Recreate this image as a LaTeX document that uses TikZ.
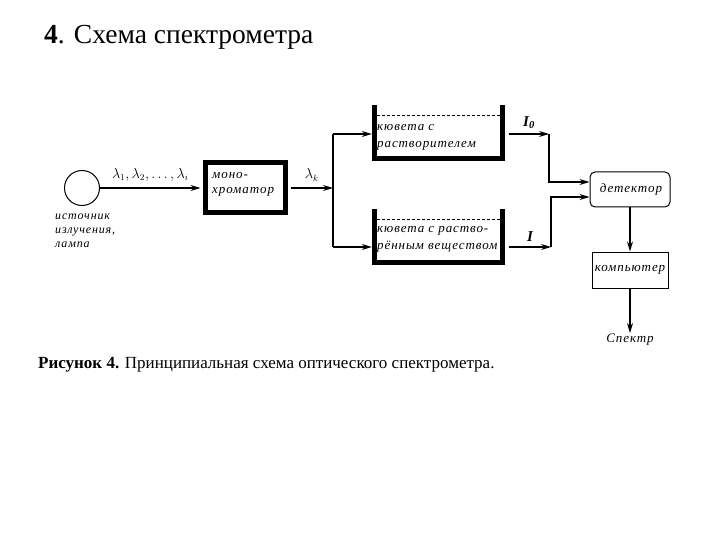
\documentclass[tikz,border=0pt]{standalone}
\usepackage{fontspec}
\setmainfont{Liberation Serif}
\newfontfamily\lblfont[LetterSpace=7]{Liberation Serif}
\usetikzlibrary{arrows.meta}
\begin{document}
\begin{tikzpicture}[x=1pt,y=-1pt,
  conn/.style={line width=1.3pt,-{Stealth[length=10pt,width=6pt]}},
  plain/.style={line width=1.3pt},
  lbl/.style={font=\lblfont\itshape\fontsize{13}{14}\selectfont,align=left,inner sep=0pt},
  cuvwall/.style={line width=5pt},
  thinbox/.style={draw,line width=1pt,inner sep=0pt}]
\useasboundingbox (0,0) rectangle (720,540);
% title
\node[anchor=west,inner sep=0pt,font=\fontsize{27.5}{30}\selectfont] (title) at (44,37) {\textbf{4}. Схема спектрометра};
% source
\node[draw,circle,line width=1pt,minimum size=35pt,inner sep=0pt] (src) at (82,188) {};
\node[lbl,anchor=north west,font=\lblfont\itshape\fontsize{12}{13}\selectfont] (srclbl) at (55,214) {источник\\[1pt]излучения,\\[1pt]лампа};
% monochromator
\node[draw,line width=5pt,minimum width=80pt,minimum height=50pt,inner sep=0pt] (mono) at (245.5,188) {};
\node[lbl,anchor=north west] (monolbl) at (212,172) {моно-\\[1pt]хроматор};
\draw[conn] (src.east) -- ([xshift=-2.5pt]mono.west) node[midway,above=3pt,font=\fontsize{13.5}{14}\selectfont] (lam) {$\lambda_1,\lambda_2,\ldots,\lambda_i$};
% split
\coordinate (split) at (333,188);
\coordinate (splitTop) at (333,134);
\coordinate (splitBot) at (333,247);
\draw[conn] ([xshift=2.5pt]mono.east) -- (split) node[midway,above=3pt,font=\fontsize{13.5}{14}\selectfont] (lamk) {$\lambda_k$};
\draw[plain] (splitTop) -- (splitBot);
% cuvettes
\node[minimum width=128pt,minimum height=51pt,inner sep=0pt] (cuv1) at (438.5,133) {};
\node[minimum width=128pt,minimum height=51pt,inner sep=0pt] (cuv2) at (438.5,237) {};
\foreach \c in {cuv1,cuv2}{
  \draw[cuvwall] ([yshift=2pt]\c.north west) -- (\c.south west) -- (\c.south east) -- ([yshift=2pt]\c.north east);
  \draw[line width=1pt,dash pattern=on 3pt off 2pt] ([xshift=3pt,yshift=-8.5pt]\c.north west) -- ([xshift=-3pt,yshift=-8.5pt]\c.north east);
}
\node[lbl,anchor=north west] (cuv1lbl) at (377,124) {кювета с\\[3pt]растворителем};
\node[lbl,anchor=north west] (cuv2lbl) at (377,226) {кювета с раство-\\[3pt]рённым веществом};
\draw[conn] (splitTop) -- ([xshift=-2.5pt]cuv1.west |- splitTop);
\draw[conn] (splitBot) -- ([xshift=-2.5pt]cuv2.west |- splitBot);
% outputs
\coordinate (o1) at (549,134);
\coordinate (o2) at (551,247);
\draw[conn] ([xshift=6pt]cuv1.east |- o1) -- (o1);
\draw[conn] ([xshift=6pt]cuv2.east |- o2) -- (o2);
\node[font=\itshape\bfseries\fontsize{15}{15}\selectfont,inner sep=0pt] (I0) at (529,123) {I\textsubscript{0}};
\node[font=\itshape\bfseries\fontsize{15}{15}\selectfont,inner sep=0pt] (I) at (530,237) {I};
% detector
\node[thinbox,rounded corners=5pt,minimum width=80pt,minimum height=35pt] (det) at (630,189.5) {};
\node[lbl] (detlbl) at (631,189.5) {детектор};
\draw[conn] (o1) |- ([yshift=7.5pt]det.west);
\draw[conn] (o2) |- ([yshift=-7.5pt]det.west);
% computer
\node[thinbox,minimum width=76pt,minimum height=36pt] (comp) at (630,270) {};
\node[lbl] (complbl) at (630,270) {компьютер};
\draw[conn] (det.south) -- (comp.north);
\node[lbl,inner sep=0pt] (spec) at (630,340) {Спектр};
\draw[conn] (comp.south) -- ([yshift=1pt]spec.north);
% caption
\node[anchor=west,inner sep=0pt,font=\fontsize{17}{19}\selectfont] (cap) at (38,365) {\textbf{Рисунок 4.} Принципиальная схема оптического спектрометра.};
\end{tikzpicture}
\end{document}
